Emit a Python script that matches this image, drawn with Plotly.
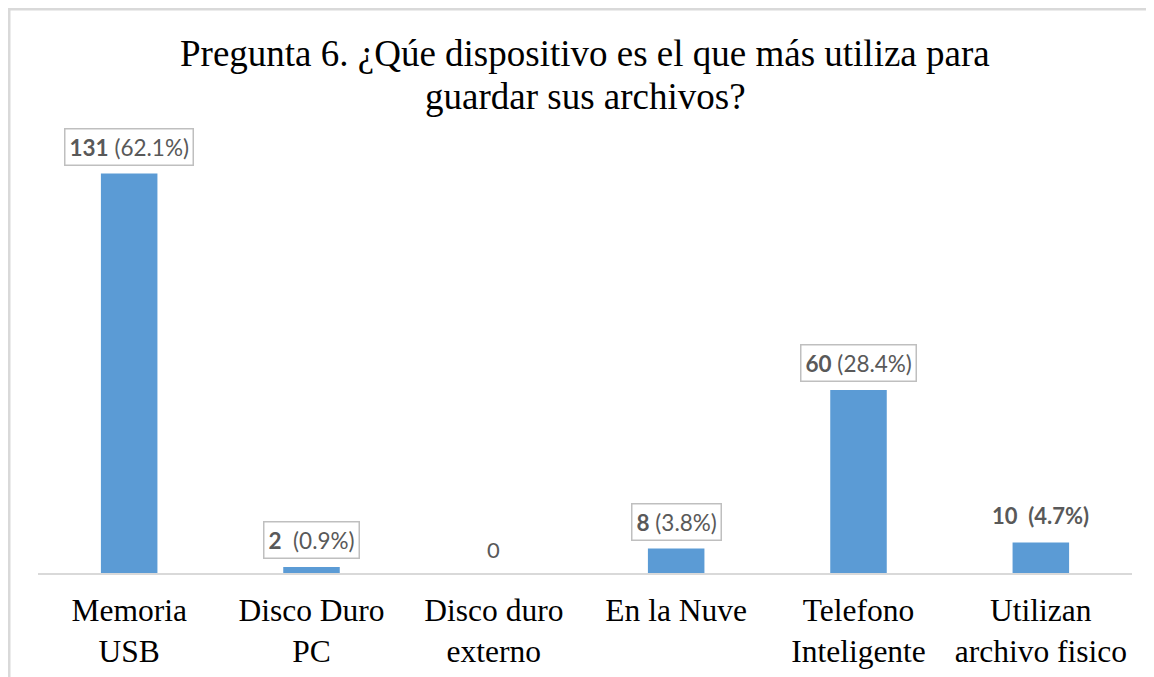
import plotly.graph_objects as go

categorias = ['Memoria<br>USB', 'Disco Duro<br>PC', 'Disco duro<br>externo',
              'En la Nuve', 'Telefono<br>Inteligente', 'Utilizan<br>archivo fisico']
cantidades = [131, 2, 0, 8, 60, 10]
porcentajes = ['62.1%', '0.9%', '', '3.8%', '28.4%', '4.7%']
titulo = ['Pregunta 6. ¿Qúe dispositivo es el que más utiliza para',
          'guardar sus archivos?']

gris_texto = '#595959'
fuente_etq = 'Lato'
W, H = 1146, 669
L, R, T, B = 30, 22, 132, 104
plot_w, plot_h = W - L - R, H - T - B

fig = go.Figure()

fig.add_trace(go.Bar(
    x=list(range(len(categorias))), y=cantidades,
    marker=dict(color='#5b9bd5', line=dict(width=0)),
    width=0.31,
    showlegend=False,
    hoverinfo='skip',
))

# etiquetas de datos
for i, (n, p) in enumerate(zip(cantidades, porcentajes)):
    if n == 0:
        fig.add_annotation(x=i, y=n, text='0', showarrow=False, yanchor='bottom', yshift=8,
                           font=dict(family=fuente_etq, size=22, color=gris_texto))
    elif i == 5:
        fig.add_annotation(x=i, y=n, text=f'<b>{n}  ({p})</b>', showarrow=False,
                           yanchor='bottom', yshift=12,
                           font=dict(family=fuente_etq, size=22, color=gris_texto))
    else:
        sep = '  ' if i == 1 else ' '
        fig.add_annotation(x=i, y=n, text=f'<b>{n}</b>{sep}({p})', showarrow=False,
                           yanchor='bottom', yshift=8,
                           bordercolor='#bfbfbf', borderwidth=1.5, borderpad=4,
                           bgcolor='white',
                           font=dict(family=fuente_etq, size=22.5, color=gris_texto))

# titulo en dos lineas (centros a 45 y 89 px del borde superior)
for linea, ycen in zip(titulo, [45, 89]):
    fig.add_annotation(
        xref='paper', yref='paper', x=0.5, y=1 + (T - ycen) / plot_h, yanchor='middle',
        text=linea, showarrow=False,
        font=dict(family='Liberation Serif', size=37, color='black'),
    )

# borde del area del grafico (recortado a la derecha y abajo)
fig.add_shape(type='rect', xref='paper', yref='paper', layer='below',
              x0=-(L - 1) / plot_w, x1=1.2, y0=-0.5, y1=1 + (T - 1) / plot_h,
              line=dict(color='#d9d9d9', width=3))

fig.update_layout(
    width=W, height=H,
    margin=dict(l=L, r=R, t=T, b=B, autoexpand=False),
    paper_bgcolor='white', plot_bgcolor='white',
    xaxis=dict(
        tickmode='array', tickvals=list(range(len(categorias))), ticktext=categorias,
        range=[-0.5, 5.5], showline=True, linecolor='#d9d9d9', linewidth=1.5,
        ticks='', showgrid=False, zeroline=False, ticklabelstandoff=8,
        tickfont=dict(family='Liberation Serif', size=31.5, color='black'),
    ),
    yaxis=dict(range=[0, 142], visible=False, showgrid=False, zeroline=False),
)

fig.write_html('out.html')
